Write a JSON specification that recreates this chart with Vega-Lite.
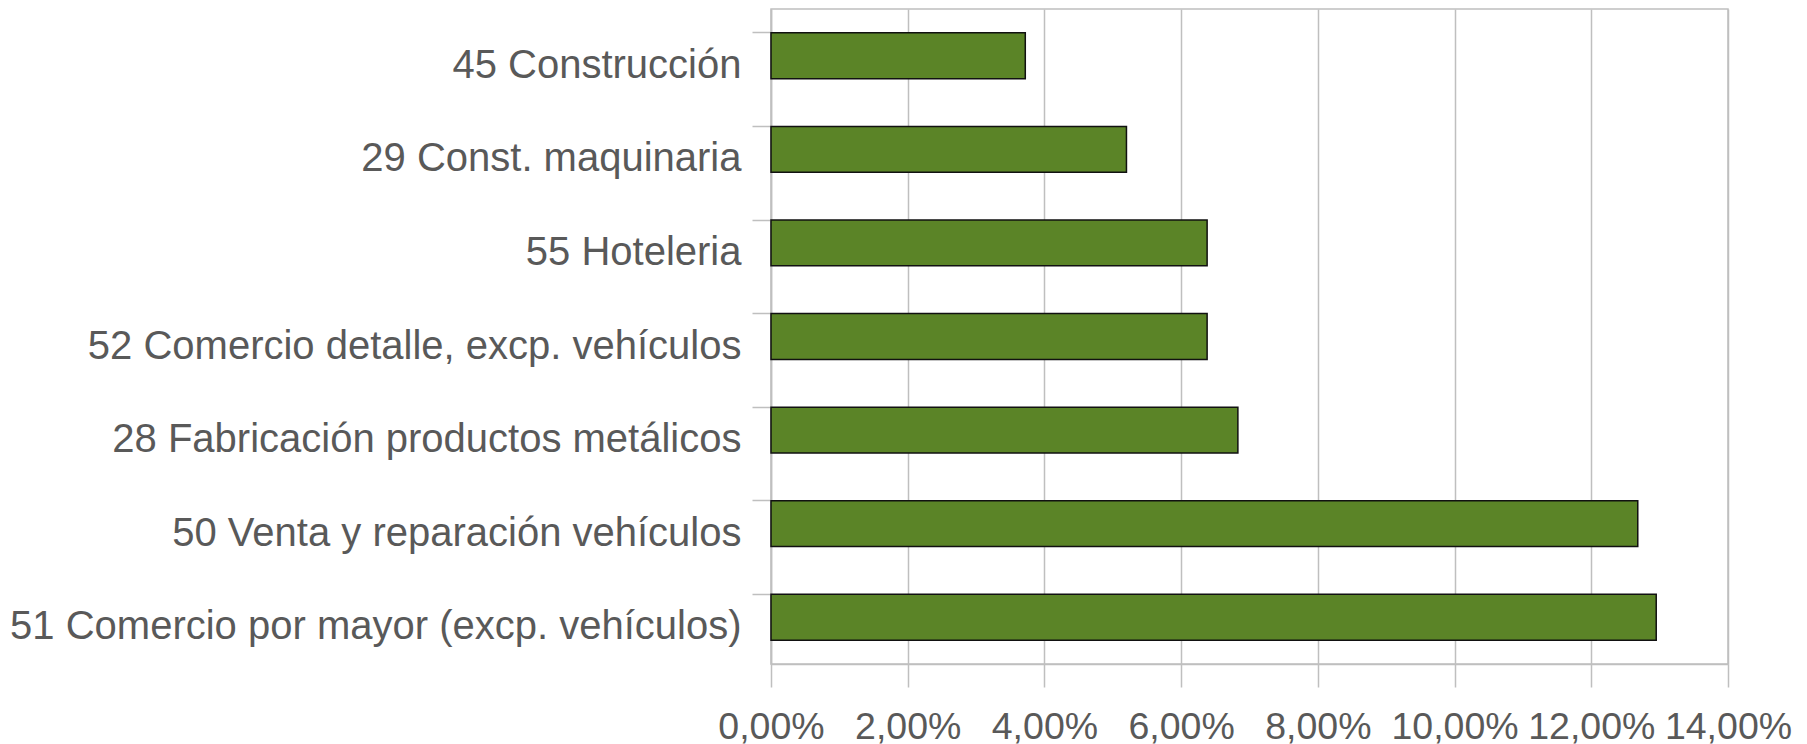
{
  "$schema": "https://vega.github.io/schema/vega-lite/v6.json",
  "autosize": {"type": "none"},
  "padding": {"left": 771, "top": 9, "right": 79, "bottom": 80},
  "width": 957,
  "height": 655,
  "background": "#ffffff",
  "view": {"stroke": "#bfbfbf", "strokeWidth": 1.5},
  "data": {
    "values": [
      {"sector": "45 Construcción", "pct": 0.0372},
      {"sector": "29 Const. maquinaria", "pct": 0.0520},
      {"sector": "55 Hoteleria ", "pct": 0.0638},
      {"sector": "52 Comercio detalle, excp. vehículos ", "pct": 0.0638},
      {"sector": "28 Fabricación productos metálicos", "pct": 0.0683},
      {"sector": "50 Venta y reparación vehículos", "pct": 0.1268},
      {"sector": "51 Comercio por mayor (excp. vehículos)", "pct": 0.1295}
    ]
  },
  "mark": {"type": "bar", "color": "#5b8427", "stroke": "#111111", "strokeWidth": 1.5},
  "encoding": {
    "y": {
      "field": "sector",
      "type": "nominal",
      "sort": null,
      "title": null,
      "scale": {"paddingInner": 0.51, "paddingOuter": 0.255},
      "axis": {
        "bandPosition": 0,
        "labelLimit": 0,
        "labelPadding": 11,
        "labelOffset": 10,
        "tickSize": 19,
        "tickColor": "#bfbfbf",
        "tickWidth": 1.5,
        "domainColor": "#bfbfbf",
        "domainWidth": 1.5,
        "grid": false,
        "labelFont": "Liberation Sans",
        "labelFontSize": 40,
        "labelColor": "#595959"
      }
    },
    "x": {
      "field": "pct",
      "type": "quantitative",
      "title": null,
      "scale": {"domain": [0, 0.14], "nice": false},
      "axis": {
        "values": [0, 0.02, 0.04, 0.06, 0.08, 0.1, 0.12, 0.14],
        "labelExpr": "replace(format(datum.value, '.2%'), '.', ',')",
        "grid": true,
        "gridColor": "#bfbfbf",
        "gridWidth": 1.5,
        "tickSize": 23,
        "tickColor": "#bfbfbf",
        "tickWidth": 1.5,
        "domainColor": "#bfbfbf",
        "domainWidth": 1.5,
        "labelPadding": 21,
        "labelFont": "Liberation Sans",
        "labelFontSize": 37.5,
        "labelColor": "#595959",
        "labelFlush": false,
        "labelOverlap": false
      }
    }
  }
}
